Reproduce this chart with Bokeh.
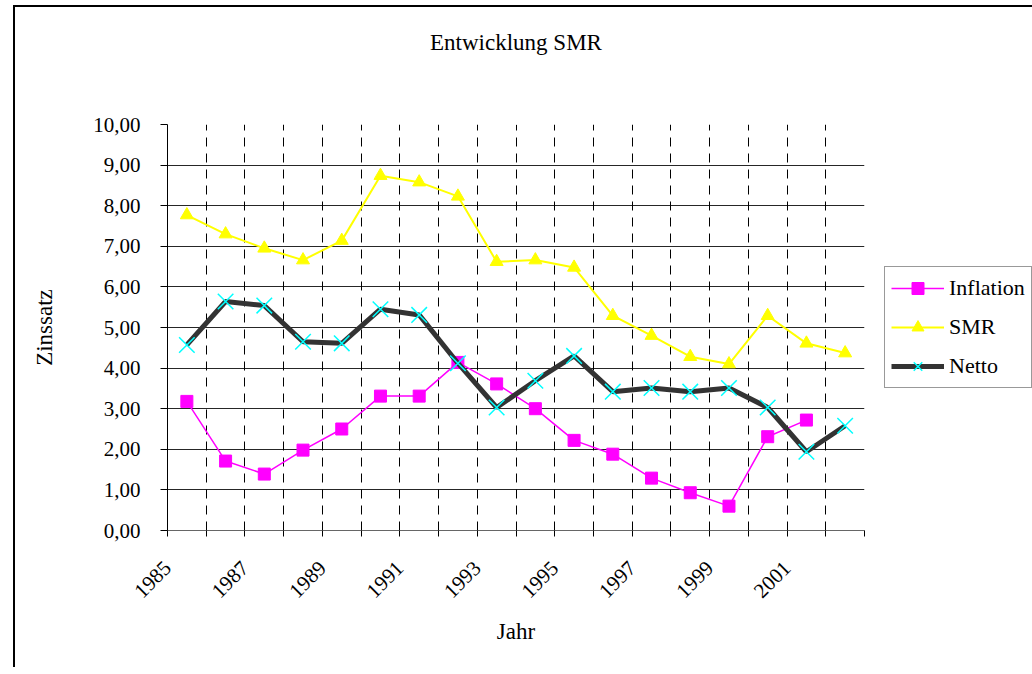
import math
import numpy as np
from bokeh.plotting import figure
from bokeh.models import Range1d, FixedTicker, Legend, LegendItem, LinearAxis
from bokeh.embed import file_html
from bokeh.resources import INLINE

# ---- data ----
years = list(range(1985, 2003))
inflation = [3.18, 1.71, 1.39, 1.98, 2.50, 3.31, 3.31, 4.14, 3.61, 3.00,
             2.22, 1.88, 1.29, 0.93, 0.60, 2.31, 2.72, np.nan]
smr = [7.77, 7.30, 6.95, 6.66, 7.14, 8.74, 8.58, 8.23, 6.62, 6.66,
       6.48, 5.29, 4.80, 4.28, 4.10, 5.29, 4.61, 4.37]
netto = [4.57, 5.64, 5.54, 4.65, 4.61, 5.45, 5.31, 4.12, 3.03, 3.69,
         4.30, 3.42, 3.51, 3.42, 3.51, 3.03, 1.94, 2.58]
x_tick_labels = [str(y) for y in years[::2]][:9]   # 1985, 1987, ... 2001
y_tick_values = list(range(0, 11))
y_tick_labels = ["%d,00" % v for v in y_tick_values]

FONT = "Liberation Serif"
FS_TITLE = "23px"
FS_AXLAB = "23px"
FS_TICK = "21px"
FS_LEG = "22px"

n = len(years)
xc = np.arange(n) + 0.5  # category centres

p = figure(frame_width=697, frame_height=406,
           x_range=Range1d(0, n), y_range=Range1d(0, 10),
           output_backend="svg", toolbar_location=None,
           min_border_left=152, min_border_right=168,
           min_border_top=117, min_border_bottom=137)
p.styles = {"border-top": "2px solid black", "border-left": "2px solid black",
            "margin-left": "13px", "margin-top": "5px"}
p.outline_line_color = None
p.background_fill_color = "white"
p.border_fill_color = "white"

xa = p.below[0]   # the figure's own x axis
ya = p.left[0]    # the figure's own y axis

# spacer between frame and title (axis with one white, invisible tick)
spacer = LinearAxis(ticker=FixedTicker(ticks=[n / 2]), major_tick_out=68, major_tick_in=0,
                    major_tick_line_color="white", minor_tick_out=0, minor_tick_in=0,
                    minor_tick_line_color=None, axis_line_color=None,
                    major_label_overrides={n / 2: ""},
                    major_label_standoff=0, major_label_text_font_size="1px")
p.add_layout(spacer, "above")

p.title.text = "Entwicklung SMR"
p.title.align = "center"
p.title.vertical_align = "top"
p.title.text_font = FONT
p.title.text_font_size = FS_TITLE
p.title.text_font_style = "normal"
p.title.text_color = "black"
p.title.offset = 3
p.title.standoff = 0

# x axis: ticks at category boundaries, year labels every second boundary
bounds = list(range(n + 1))
xa.ticker = FixedTicker(ticks=bounds)
overrides = {b: "" for b in bounds}
for i, lab in enumerate(x_tick_labels):
    overrides[2 * i] = lab
xa.major_label_overrides = overrides
xa.major_label_orientation = math.pi / 4
xa.major_label_standoff = 28
xa.major_tick_out = 6
xa.major_tick_in = 0
xa.minor_tick_line_color = None
xa.axis_line_color = "#666666"
xa.major_tick_line_color = "black"
xa.axis_label = "Jahr"
xa.axis_label_standoff = 12

# y axis
ya.ticker = FixedTicker(ticks=y_tick_values)
ya.major_label_overrides = {v: l for v, l in zip(y_tick_values, y_tick_labels)}
ya.major_tick_out = 7
ya.major_tick_in = 0
ya.minor_tick_line_color = None
ya.axis_line_color = "black"
ya.major_label_standoff = 20
ya.axis_label = "Zinssatz"
ya.axis_label_standoff = 33

for ax in (xa, ya):
    ax.major_label_text_font = FONT
    ax.major_label_text_font_size = FS_TICK
    ax.major_label_text_color = "black"
    ax.axis_label_text_font = FONT
    ax.axis_label_text_font_size = FS_AXLAB
    ax.axis_label_text_font_style = "normal"
    ax.axis_label_text_color = "black"

p.xgrid.ticker = FixedTicker(ticks=bounds)
p.xgrid.grid_line_color = "black"
p.xgrid.grid_line_dash = "9 7"
p.xgrid.grid_line_width = 1
p.ygrid.ticker = FixedTicker(ticks=y_tick_values)
p.ygrid.grid_line_color = "black"
p.ygrid.grid_line_alpha = 0.85
p.ygrid.grid_line_width = 1

# series
infl = np.array(inflation, dtype=float)
l1 = p.line(xc, infl, line_color="#FF00FF", line_width=1.5)
s1 = p.scatter(xc, infl, marker="square", size=12,
               fill_color="#FF00FF", line_color="#FF00FF")
l2 = p.line(xc, smr, line_color="#FFFF00", line_width=2)
s2 = p.scatter(xc, smr, marker="triangle", size=13,
               fill_color="#FFFF00", line_color="#FFFF00")
l3 = p.line(xc, netto, line_color="#333333", line_width=5)
s3 = p.scatter(xc, netto, marker="x", size=22, line_color="#00FFFF", line_width=1.5)

legend = Legend(items=[LegendItem(label="Inflation", renderers=[l1, s1]),
                       LegendItem(label="SMR", renderers=[l2, s2]),
                       LegendItem(label="Netto", renderers=[l3, s3])],
                location="center_left")
legend.label_text_font = FONT
legend.label_text_font_size = FS_LEG
legend.label_text_color = "black"
legend.glyph_width = 53
legend.glyph_height = 30
legend.spacing = 9
legend.padding = 6
legend.margin = 20
legend.label_standoff = 5
legend.border_line_color = "#333333"
legend.border_line_width = 1
legend.background_fill_color = "white"
legend.background_fill_alpha = 1
p.add_layout(legend, "right")

open("out.html", "w").write(file_html(p, INLINE))
